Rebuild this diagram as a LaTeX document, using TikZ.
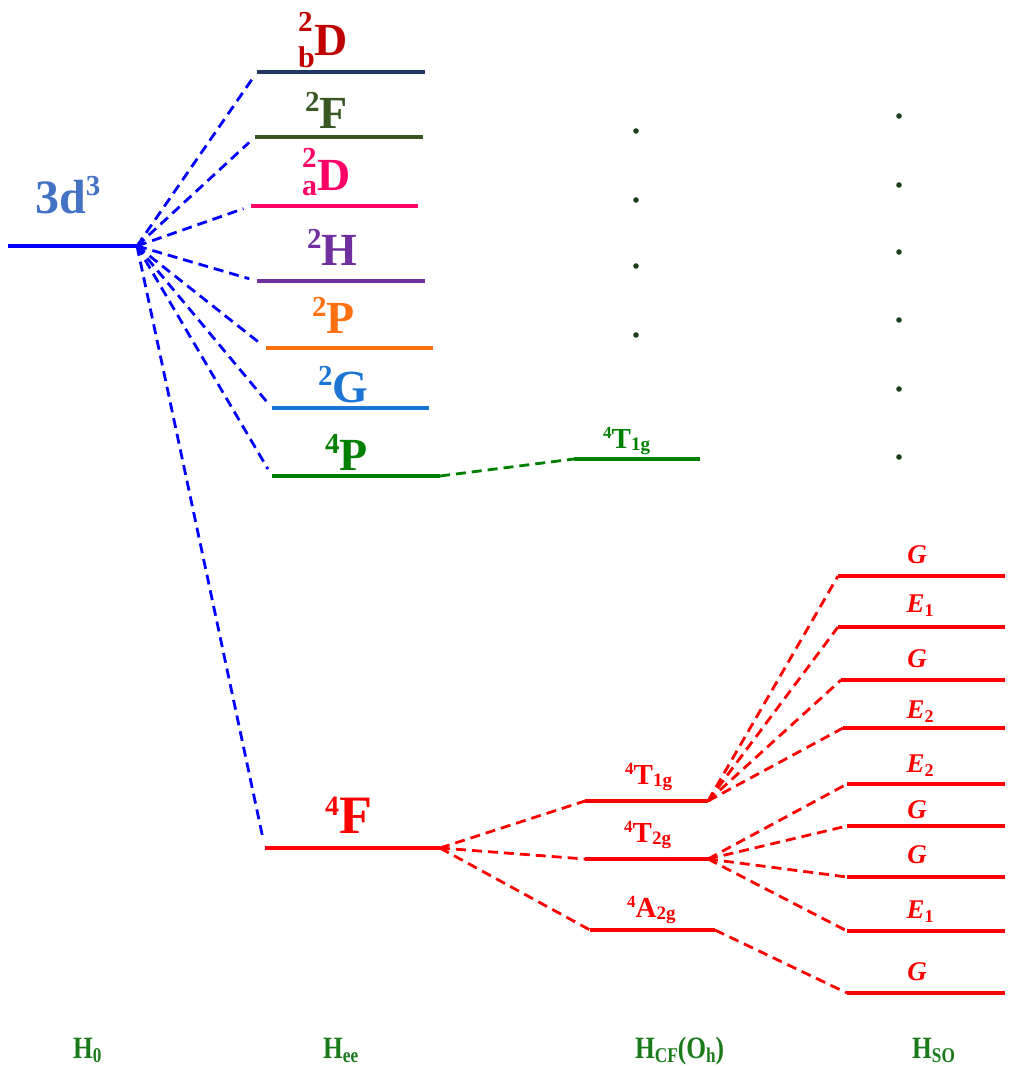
\documentclass[tikz,border=0pt]{standalone}
\usepackage{fontspec}
\setmainfont{Liberation Serif}
\definecolor{cblue}{HTML}{0000FF}
\definecolor{clab}{HTML}{4472C4}
\definecolor{cdred}{HTML}{C00000}
\definecolor{cnavy}{HTML}{1F3864}
\definecolor{colive}{HTML}{385723}
\definecolor{cpink}{HTML}{FF0066}
\definecolor{cpurple}{HTML}{7030A0}
\definecolor{corange}{HTML}{FF7010}
\definecolor{cmblue}{HTML}{1C75D4}
\definecolor{cgreen}{HTML}{008000}
\definecolor{cred}{HTML}{FF0000}
\definecolor{cdot}{HTML}{1E3F1E}
\definecolor{cham}{HTML}{1A7A1A}
\newcommand{\fsz}[1]{\fontsize{#1}{#1}\selectfont}
\newcommand{\hsup}[3]{\raisebox{#1pt}{\fsz{#2}#3}}
\tikzset{
  lvl/.style={line width=4pt},
  solvl/.style={line width=4.5pt, cred},
  conn/.style={line width=2.8pt, dash pattern=on 10pt off 6pt},
  lab/.style={inner sep=0pt, anchor=base west, font=\bfseries},
  dotm/.style={fill=cdot, draw=none},
}
\begin{document}
\begin{tikzpicture}[x=1pt,y=-1pt]
\useasboundingbox (0,0) rectangle (1015,1068);
% ---- coordinates of levels
\coordinate (d3l) at (8,246);   \coordinate (d3r) at (137,246);
\coordinate (bDl) at (257,72);  \coordinate (bDr) at (425,72);
\coordinate (Fl) at (255,137);  \coordinate (Fr) at (423,137);
\coordinate (aDl) at (251,206); \coordinate (aDr) at (418,206);
\coordinate (Hl) at (257,281);  \coordinate (Hr) at (425,281);
\coordinate (Pl) at (266,348);  \coordinate (Pr) at (433,348);
\coordinate (Gl) at (272,408);  \coordinate (Gr) at (429,408);
\coordinate (qPl) at (272,476); \coordinate (qPr) at (440,476);
\coordinate (qFl) at (265,848); \coordinate (qFr) at (440,848);
\coordinate (tgl) at (574,459); \coordinate (tgr) at (700,459);
\coordinate (c1l) at (585,801); \coordinate (c1r) at (708,801);
\coordinate (c2l) at (585,859); \coordinate (c2r) at (708,859);
\coordinate (c3l) at (590,930); \coordinate (c3r) at (715,930);
\coordinate (s1l) at (838,576); \coordinate (s1r) at (1005,576);
\coordinate (s2l) at (838,627); \coordinate (s2r) at (1005,627);
\coordinate (s3l) at (841,680); \coordinate (s3r) at (1005,680);
\coordinate (s4l) at (843,728); \coordinate (s4r) at (1005,728);
\coordinate (s5l) at (847,784); \coordinate (s5r) at (1005,784);
\coordinate (s6l) at (847,826); \coordinate (s6r) at (1005,826);
\coordinate (s7l) at (847,877); \coordinate (s7r) at (1005,877);
\coordinate (s8l) at (847,931); \coordinate (s8r) at (1005,931);
\coordinate (s9l) at (847,993); \coordinate (s9r) at (1005,993);
% ---- levels
\draw[lvl,cblue] (d3l) -- (d3r);
\draw[lvl,cnavy] (bDl) -- (bDr);
\draw[lvl,colive] (Fl) -- (Fr);
\draw[lvl,cpink] (aDl) -- (aDr);
\draw[lvl,cpurple] (Hl) -- (Hr);
\draw[lvl,corange] (Pl) -- (Pr);
\draw[lvl,cmblue] (Gl) -- (Gr);
\draw[lvl,cgreen] (qPl) -- (qPr);
\draw[lvl,cred] (qFl) -- (qFr);
\draw[lvl,cgreen] (tgl) -- (tgr);
\draw[lvl,cred] (c1l) -- (c1r);
\draw[lvl,cred] (c2l) -- (c2r);
\draw[lvl,cred] (c3l) -- (c3r);
\foreach \i in {1,...,9} {\draw[solvl] (s\i l) -- (s\i r);}
% ---- connectors
\foreach \t in {bDl,Fl,aDl,Hl,Pl,Gl,qPl,qFl}
  {\draw[conn,cblue,shorten >=8pt] (d3r) -- (\t);}
\draw[conn,cgreen] (qPr) -- (tgl);
\foreach \t in {c1l,c2l,c3l} {\draw[conn,cred] (qFr) -- (\t);}
\foreach \t in {s1l,s2l,s3l,s4l} {\draw[conn,cred] (c1r) -- (\t);}
\foreach \t in {s5l,s6l,s7l,s8l} {\draw[conn,cred] (c2r) -- (\t);}
\draw[conn,cred] (c3r) -- (s9l);
% ---- labels
\node[lab,clab] (t3d) at (35,213) {\fsz{48}3d\hsup{18}{29}{3}};
\node[lab,cdred] (tbD) at (298,55) {\fsz{46}\rlap{\hsup{24}{29}{2}}\hsup{-12}{30}{b}D};
\node[lab,colive] (tF) at (305,128) {\fsz{46}\hsup{17}{29}{2}F};
\node[lab,cpink] (taD) at (302,190) {\fsz{46}\rlap{\hsup{23}{29}{2}}\hsup{-5}{30}{a}D};
\node[lab,cpurple] (tH) at (307,265) {\fsz{46}\hsup{17}{29}{2}H};
\node[lab,corange] (tP) at (312,333) {\fsz{46}\hsup{17}{29}{2}P};
\node[lab,cmblue] (tG) at (318,402) {\fsz{46}\hsup{17}{29}{2}G};
\node[lab,cgreen] (tqP) at (325,470) {\fsz{46}\hsup{17}{29}{4}P};
\node[lab,cred] (tqF) at (325,833) {\fsz{54}\hsup{18}{28}{4}F};
\node[lab,cgreen] (ttg) at (603,448) {\fsz{29}\hsup{10}{17}{4}T\hsup{-2}{19}{1g}};
\node[lab,cred] (tc1) at (625,784) {\fsz{29}\hsup{10}{17}{4}T\hsup{-2}{19}{1g}};
\node[lab,cred] (tc2) at (624,842) {\fsz{29}\hsup{10}{17}{4}T\hsup{-2}{19}{2g}};
\node[lab,cred] (tc3) at (627,917) {\fsz{29}\hsup{10}{17}{4}A\hsup{-2}{19}{2g}};
% SO labels
\tikzset{solab/.style={inner sep=0pt, anchor=base, cred, font=\fsz{27}\bfseries\itshape}}
\node[solab] (g1) at (917,563) {G};
\node[solab] (e1) at (920,612) {E\hsup{-4}{18}{\upshape 1}};
\node[solab] (g2) at (917,667) {G};
\node[solab] (e2) at (920,718) {E\hsup{-4}{18}{\upshape 2}};
\node[solab] (e3) at (920,772) {E\hsup{-4}{18}{\upshape 2}};
\node[solab] (g3) at (917,818) {G};
\node[solab] (g4) at (917,863) {G};
\node[solab] (e4) at (920,918) {E\hsup{-4}{18}{\upshape 1}};
\node[solab] (g5) at (917,980) {G};
% dots
\foreach \y [count=\k] in {131,200,266,335} {\fill[dotm] (636,\y) circle (2.8pt);}
\foreach \y [count=\k] in {116,185,252,320,389,457} {\fill[dotm] (899,\y) circle (2.8pt);}
% bottom labels
\tikzset{ham/.style={inner sep=0pt, anchor=base west, cham, font=\fsz{31}\bfseries}}
\node[ham] (h0) at (73,1058) {\scalebox{0.82}[1]{H\hsup{-4}{21}{0}}};
\node[ham] (hee) at (323,1058) {\scalebox{0.82}[1]{H\hsup{-4}{21}{ee}}};
\node[ham] (hcf) at (635,1058) {\scalebox{0.82}[1]{H\hsup{-4}{21}{CF}(O\hsup{-4}{21}{h})}};
\node[ham] (hso) at (912,1058) {\scalebox{0.82}[1]{H\hsup{-4}{21}{SO}}};
\end{tikzpicture}
\end{document}
